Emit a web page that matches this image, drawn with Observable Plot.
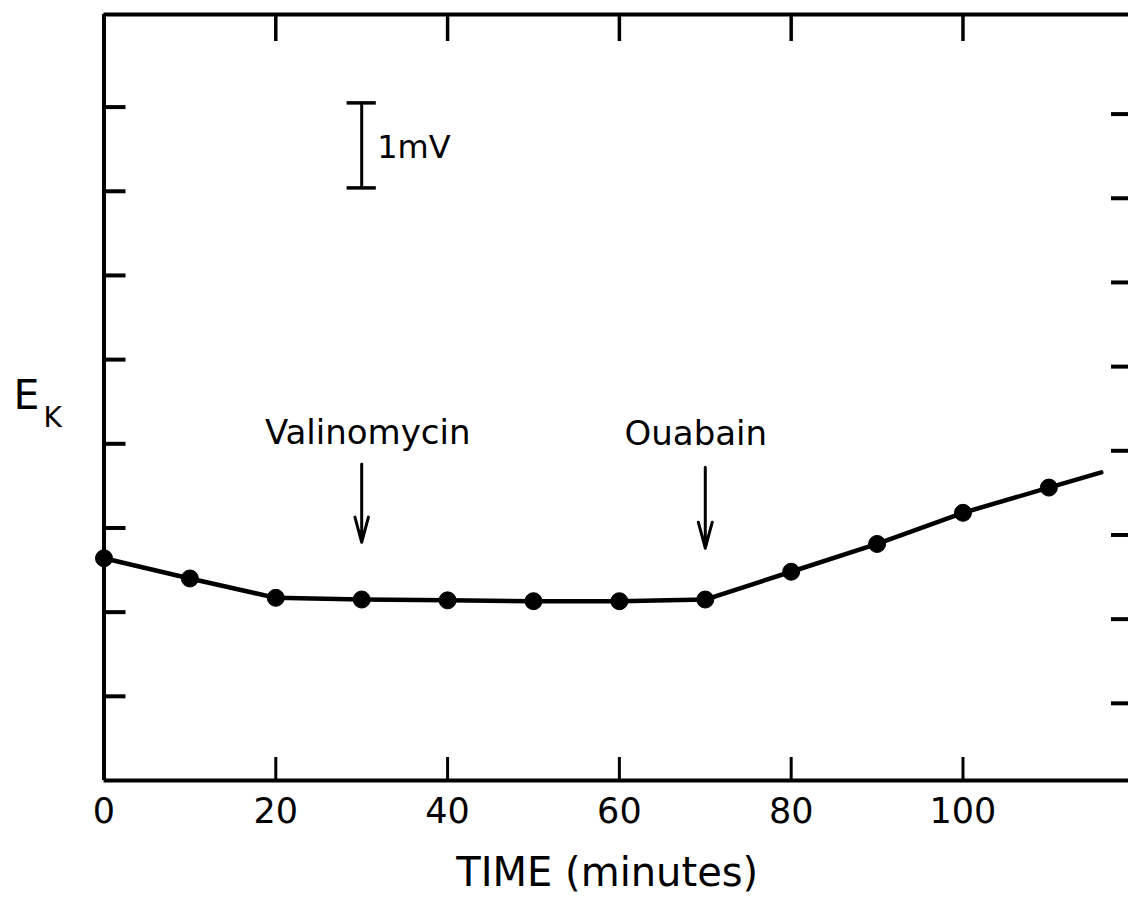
<!DOCTYPE html>
<html>
<head>
<meta charset="utf-8">
<script src="https://cdn.jsdelivr.net/npm/d3@7"></script>
<script src="https://cdn.jsdelivr.net/npm/@observablehq/plot@0.6"></script>
<style>
  html, body { margin: 0; padding: 0; background: #fff; overflow: hidden; }
</style>
</head>
<body>
<div id="chart"></div>
<script>
// ---- data ----
const times = [0, 10, 20, 30, 40, 50, 60, 70, 80, 90, 100, 110];          // minutes
const ek    = [2.64, 2.40, 2.17, 2.15, 2.14, 2.13, 2.13, 2.15, 2.48, 2.81, 3.18, 3.48]; // mV (relative)
const lineEndT = 116.1;   // the line runs on past the last point
const lineEndE = 3.66;

const xTicks = [0, 20, 40, 60, 80, 100];
const xTickLabels = ["0", "20", "40", "60", "80", "100"];
const yTicks = [1, 2, 3, 4, 5, 6, 7, 8];

const eventNames = ["Valinomycin", "Ouabain"];
const eventTimes = [30, 70];
const arrowTop = [3.76, 3.72];
const arrowTip = [2.83, 2.76];
const labelX = [30.7, 68.9];
const labelY = [4.00, 3.98];

const scaleBarX = 30;
const scaleBarY = [7.04, 8.05];   // 1 mV
const scaleBarText = "1mV";

const xLabel = "TIME (minutes)";
const yLabelMain = "E";
const yLabelSub = "K";

const xMax = 119.27;
const yMax = 9.1;

// ---- tables built from the arrays ----
const pts = times.map((t, i) => ({t, e: ek[i]}));
const linePts = [...pts, {t: lineEndT, e: lineEndE}];
const events = eventNames.map((name, i) => ({name, t: eventTimes[i], y1: arrowTop[i], y2: arrowTip[i], lx: labelX[i], ly: labelY[i]}));
const capHalf = 1.7;
const scaleCaps = scaleBarY.map(y => ({y, x1: scaleBarX - capHalf, x2: scaleBarX + capHalf}));

const font = "DejaVu Sans";

const chart = Plot.plot({
  width: 1128,
  height: 898,
  marginLeft: 103.5,
  marginRight: 0,
  marginTop: 14,
  marginBottom: 118,
  style: {fontFamily: font, color: "black", background: "white"},
  x: {domain: [0, xMax]},
  y: {domain: [0, yMax]},
  marks: [
    // frame (top, bottom, left)
    Plot.ruleY([0], {stroke: "black", strokeWidth: 4}),
    Plot.ruleY([yMax], {stroke: "black", strokeWidth: 4}),
    Plot.ruleX([0], {stroke: "black", strokeWidth: 4}),
    // inward ticks
    Plot.axisX({anchor: "bottom", ticks: xTicks, tickSize: -23, strokeWidth: 3, fill: "none", label: null}),
    Plot.axisX({anchor: "top", ticks: xTicks, tickSize: -26, strokeWidth: 3.5, fill: "none", label: null}),
    Plot.axisY({anchor: "left", ticks: yTicks, tickSize: -22, strokeWidth: 4, fill: "none", label: null}),
    Plot.axisY({anchor: "right", ticks: yTicks, tickSize: -18, strokeWidth: 4, dy: 7, fill: "none", label: null}),
    // tick labels
    Plot.axisX({anchor: "bottom", ticks: xTicks, tickSize: 0, tickPadding: 18, fontSize: 35,
      tickFormat: (d) => xTickLabels[xTicks.indexOf(d)], label: null}),
    // data
    Plot.line(linePts, {x: "t", y: "e", stroke: "black", strokeWidth: 4.5}),
    Plot.dot(pts, {x: "t", y: "e", r: 8.5, fill: "black", stroke: "black", strokeWidth: 1}),
    // event arrows and labels
    Plot.arrow(events, {x: "t", y1: "y1", y2: "y2", stroke: "black", strokeWidth: 3, headLength: 28, headAngle: 30}),
    Plot.text(events, {x: "lx", y: "ly", text: "name", fontSize: 34, lineAnchor: "bottom", fill: "black"}),
    // scale bar
    Plot.ruleX([scaleBarX], {y1: scaleBarY[0], y2: scaleBarY[1], stroke: "black", strokeWidth: 3}),
    Plot.ruleY(scaleCaps, {y: "y", x1: "x1", x2: "x2", stroke: "black", strokeWidth: 3.5}),
    Plot.text([scaleBarText], {x: scaleBarX + 1.8, y: 7.40, text: d => d, textAnchor: "start", lineAnchor: "bottom", fontSize: 32, fill: "black"}),
    // axis titles
    Plot.text([xLabel], {frameAnchor: "bottom", dx: -9, dy: 105, text: d => d, lineAnchor: "bottom", fontSize: 40, fill: "black"}),
    Plot.text([yLabelMain], {frameAnchor: "left", dx: -90.5, dy: 11, text: d => d, textAnchor: "start", lineAnchor: "bottom", fontSize: 41, fill: "black"}),
    Plot.text([yLabelSub], {frameAnchor: "left", dx: -60.5, dy: 29, text: d => d, textAnchor: "start", lineAnchor: "bottom", fontSize: 28, fill: "black"})
  ]
});
document.getElementById("chart").appendChild(chart);
</script>
</body>
</html>
